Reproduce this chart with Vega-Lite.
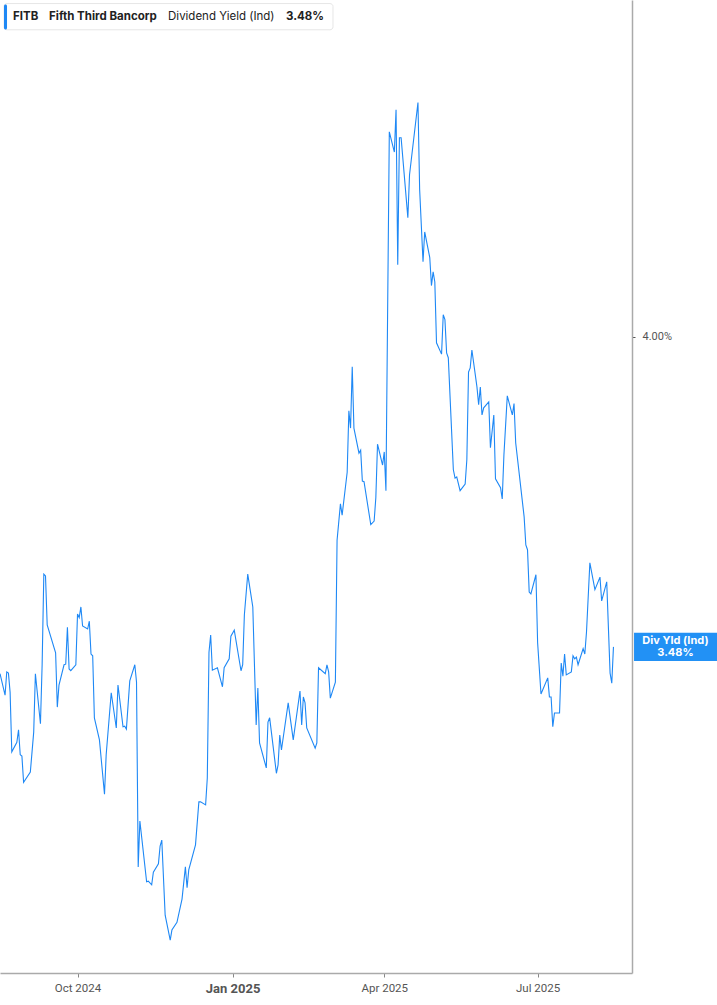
{
  "$schema": "https://vega.github.io/schema/vega-lite/v6.json",
  "width": 632,
  "height": 973,
  "padding": 0,
  "autosize": {"type": "pad"},
  "background": "white",
  "config": {"view": {"stroke": null}, "font": "Roboto"},
  "data": {"values": [
    {"date": "2024-08-16", "value": 3.435},
    {"date": "2024-08-19", "value": 3.399},
    {"date": "2024-08-20", "value": 3.438},
    {"date": "2024-08-21", "value": 3.436},
    {"date": "2024-08-22", "value": 3.404},
    {"date": "2024-08-23", "value": 3.304},
    {"date": "2024-08-26", "value": 3.320},
    {"date": "2024-08-27", "value": 3.341},
    {"date": "2024-08-28", "value": 3.299},
    {"date": "2024-08-29", "value": 3.297},
    {"date": "2024-08-30", "value": 3.253},
    {"date": "2024-09-03", "value": 3.270},
    {"date": "2024-09-05", "value": 3.337},
    {"date": "2024-09-06", "value": 3.435},
    {"date": "2024-09-09", "value": 3.351},
    {"date": "2024-09-10", "value": 3.450},
    {"date": "2024-09-11", "value": 3.602},
    {"date": "2024-09-12", "value": 3.599},
    {"date": "2024-09-13", "value": 3.517},
    {"date": "2024-09-18", "value": 3.470},
    {"date": "2024-09-19", "value": 3.379},
    {"date": "2024-09-20", "value": 3.416},
    {"date": "2024-09-23", "value": 3.450},
    {"date": "2024-09-24", "value": 3.451},
    {"date": "2024-09-25", "value": 3.513},
    {"date": "2024-09-26", "value": 3.443},
    {"date": "2024-09-27", "value": 3.440},
    {"date": "2024-09-30", "value": 3.450},
    {"date": "2024-10-01", "value": 3.535},
    {"date": "2024-10-02", "value": 3.529},
    {"date": "2024-10-03", "value": 3.547},
    {"date": "2024-10-04", "value": 3.515},
    {"date": "2024-10-07", "value": 3.510},
    {"date": "2024-10-08", "value": 3.523},
    {"date": "2024-10-09", "value": 3.468},
    {"date": "2024-10-10", "value": 3.465},
    {"date": "2024-10-11", "value": 3.361},
    {"date": "2024-10-14", "value": 3.324},
    {"date": "2024-10-17", "value": 3.233},
    {"date": "2024-10-18", "value": 3.299},
    {"date": "2024-10-21", "value": 3.403},
    {"date": "2024-10-24", "value": 3.344},
    {"date": "2024-10-25", "value": 3.416},
    {"date": "2024-10-28", "value": 3.346},
    {"date": "2024-10-29", "value": 3.347},
    {"date": "2024-10-30", "value": 3.342},
    {"date": "2024-11-01", "value": 3.423},
    {"date": "2024-11-04", "value": 3.450},
    {"date": "2024-11-05", "value": 3.421},
    {"date": "2024-11-06", "value": 3.111},
    {"date": "2024-11-07", "value": 3.188},
    {"date": "2024-11-11", "value": 3.086},
    {"date": "2024-11-12", "value": 3.087},
    {"date": "2024-11-14", "value": 3.081},
    {"date": "2024-11-15", "value": 3.102},
    {"date": "2024-11-18", "value": 3.116},
    {"date": "2024-11-19", "value": 3.146},
    {"date": "2024-11-20", "value": 3.156},
    {"date": "2024-11-22", "value": 3.030},
    {"date": "2024-11-25", "value": 2.988},
    {"date": "2024-11-26", "value": 3.005},
    {"date": "2024-11-29", "value": 3.018},
    {"date": "2024-12-02", "value": 3.057},
    {"date": "2024-12-04", "value": 3.111},
    {"date": "2024-12-05", "value": 3.076},
    {"date": "2024-12-06", "value": 3.106},
    {"date": "2024-12-10", "value": 3.148},
    {"date": "2024-12-12", "value": 3.220},
    {"date": "2024-12-13", "value": 3.220},
    {"date": "2024-12-16", "value": 3.215},
    {"date": "2024-12-17", "value": 3.260},
    {"date": "2024-12-18", "value": 3.471},
    {"date": "2024-12-19", "value": 3.500},
    {"date": "2024-12-20", "value": 3.441},
    {"date": "2024-12-23", "value": 3.445},
    {"date": "2024-12-26", "value": 3.413},
    {"date": "2024-12-27", "value": 3.445},
    {"date": "2024-12-30", "value": 3.460},
    {"date": "2024-12-31", "value": 3.498},
    {"date": "2025-01-02", "value": 3.508},
    {"date": "2025-01-06", "value": 3.440},
    {"date": "2025-01-07", "value": 3.450},
    {"date": "2025-01-08", "value": 3.534},
    {"date": "2025-01-10", "value": 3.602},
    {"date": "2025-01-13", "value": 3.547},
    {"date": "2025-01-15", "value": 3.349},
    {"date": "2025-01-16", "value": 3.411},
    {"date": "2025-01-17", "value": 3.319},
    {"date": "2025-01-21", "value": 3.277},
    {"date": "2025-01-22", "value": 3.354},
    {"date": "2025-01-23", "value": 3.361},
    {"date": "2025-01-27", "value": 3.268},
    {"date": "2025-01-28", "value": 3.282},
    {"date": "2025-01-29", "value": 3.332},
    {"date": "2025-01-30", "value": 3.307},
    {"date": "2025-02-03", "value": 3.386},
    {"date": "2025-02-06", "value": 3.324},
    {"date": "2025-02-10", "value": 3.406},
    {"date": "2025-02-11", "value": 3.349},
    {"date": "2025-02-12", "value": 3.396},
    {"date": "2025-02-13", "value": 3.386},
    {"date": "2025-02-14", "value": 3.344},
    {"date": "2025-02-19", "value": 3.310},
    {"date": "2025-02-20", "value": 3.319},
    {"date": "2025-02-21", "value": 3.445},
    {"date": "2025-02-25", "value": 3.435},
    {"date": "2025-02-26", "value": 3.450},
    {"date": "2025-02-27", "value": 3.438},
    {"date": "2025-02-28", "value": 3.394},
    {"date": "2025-03-03", "value": 3.421},
    {"date": "2025-03-04", "value": 3.659},
    {"date": "2025-03-06", "value": 3.720},
    {"date": "2025-03-07", "value": 3.701},
    {"date": "2025-03-10", "value": 3.773},
    {"date": "2025-03-11", "value": 3.876},
    {"date": "2025-03-12", "value": 3.847},
    {"date": "2025-03-13", "value": 3.950},
    {"date": "2025-03-14", "value": 3.847},
    {"date": "2025-03-17", "value": 3.805},
    {"date": "2025-03-18", "value": 3.810},
    {"date": "2025-03-19", "value": 3.758},
    {"date": "2025-03-20", "value": 3.757},
    {"date": "2025-03-24", "value": 3.685},
    {"date": "2025-03-26", "value": 3.691},
    {"date": "2025-03-27", "value": 3.730},
    {"date": "2025-03-28", "value": 3.820},
    {"date": "2025-03-31", "value": 3.785},
    {"date": "2025-04-01", "value": 3.807},
    {"date": "2025-04-02", "value": 3.742},
    {"date": "2025-04-04", "value": 4.344},
    {"date": "2025-04-07", "value": 4.310},
    {"date": "2025-04-08", "value": 4.381},
    {"date": "2025-04-09", "value": 4.121},
    {"date": "2025-04-10", "value": 4.334},
    {"date": "2025-04-11", "value": 4.334},
    {"date": "2025-04-15", "value": 4.200},
    {"date": "2025-04-16", "value": 4.272},
    {"date": "2025-04-21", "value": 4.393},
    {"date": "2025-04-22", "value": 4.247},
    {"date": "2025-04-24", "value": 4.126},
    {"date": "2025-04-25", "value": 4.176},
    {"date": "2025-04-28", "value": 4.133},
    {"date": "2025-04-29", "value": 4.086},
    {"date": "2025-04-30", "value": 4.109},
    {"date": "2025-05-01", "value": 4.092},
    {"date": "2025-05-02", "value": 3.990},
    {"date": "2025-05-05", "value": 3.971},
    {"date": "2025-05-06", "value": 4.037},
    {"date": "2025-05-07", "value": 4.029},
    {"date": "2025-05-08", "value": 3.973},
    {"date": "2025-05-09", "value": 3.965},
    {"date": "2025-05-12", "value": 3.777},
    {"date": "2025-05-13", "value": 3.763},
    {"date": "2025-05-14", "value": 3.765},
    {"date": "2025-05-16", "value": 3.742},
    {"date": "2025-05-19", "value": 3.753},
    {"date": "2025-05-20", "value": 3.794},
    {"date": "2025-05-21", "value": 3.941},
    {"date": "2025-05-22", "value": 3.948},
    {"date": "2025-05-23", "value": 3.978},
    {"date": "2025-05-26", "value": 3.916},
    {"date": "2025-05-27", "value": 3.886},
    {"date": "2025-05-28", "value": 3.916},
    {"date": "2025-05-29", "value": 3.869},
    {"date": "2025-05-30", "value": 3.881},
    {"date": "2025-06-02", "value": 3.891},
    {"date": "2025-06-03", "value": 3.814},
    {"date": "2025-06-05", "value": 3.869},
    {"date": "2025-06-06", "value": 3.762},
    {"date": "2025-06-09", "value": 3.747},
    {"date": "2025-06-10", "value": 3.728},
    {"date": "2025-06-11", "value": 3.802},
    {"date": "2025-06-13", "value": 3.901},
    {"date": "2025-06-16", "value": 3.869},
    {"date": "2025-06-17", "value": 3.888},
    {"date": "2025-06-18", "value": 3.822},
    {"date": "2025-06-23", "value": 3.698},
    {"date": "2025-06-24", "value": 3.651},
    {"date": "2025-06-25", "value": 3.643},
    {"date": "2025-06-26", "value": 3.572},
    {"date": "2025-06-27", "value": 3.569},
    {"date": "2025-06-30", "value": 3.601},
    {"date": "2025-07-01", "value": 3.487},
    {"date": "2025-07-03", "value": 3.401},
    {"date": "2025-07-07", "value": 3.428},
    {"date": "2025-07-08", "value": 3.396},
    {"date": "2025-07-09", "value": 3.396},
    {"date": "2025-07-10", "value": 3.346},
    {"date": "2025-07-11", "value": 3.369},
    {"date": "2025-07-14", "value": 3.369},
    {"date": "2025-07-15", "value": 3.453},
    {"date": "2025-07-16", "value": 3.431},
    {"date": "2025-07-17", "value": 3.468},
    {"date": "2025-07-18", "value": 3.433},
    {"date": "2025-07-21", "value": 3.438},
    {"date": "2025-07-22", "value": 3.465},
    {"date": "2025-07-23", "value": 3.460},
    {"date": "2025-07-24", "value": 3.463},
    {"date": "2025-07-25", "value": 3.450},
    {"date": "2025-07-28", "value": 3.477},
    {"date": "2025-07-29", "value": 3.468},
    {"date": "2025-07-30", "value": 3.505},
    {"date": "2025-08-01", "value": 3.621},
    {"date": "2025-08-04", "value": 3.576},
    {"date": "2025-08-07", "value": 3.597},
    {"date": "2025-08-08", "value": 3.557},
    {"date": "2025-08-11", "value": 3.589},
    {"date": "2025-08-13", "value": 3.436},
    {"date": "2025-08-14", "value": 3.419},
    {"date": "2025-08-15", "value": 3.48}
  ]},
  "layer": [
    {
      "mark": {"type": "line", "color": "#1e88f5", "strokeWidth": 1.1, "clip": true},
      "encoding": {
        "x": {
          "field": "date", "type": "temporal",
          "scale": {"type": "utc", "domain": [{"year": 2024, "month": 8, "date": 16, "utc": true}, {"year": 2025, "month": 8, "date": 26, "utc": true}]},
          "axis": {
            "title": null, "grid": false,
            "values": [{"year": 2024, "month": 10, "date": 1, "utc": true}, {"year": 2025, "month": 1, "date": 1, "utc": true}, {"year": 2025, "month": 4, "date": 1, "utc": true}, {"year": 2025, "month": 7, "date": 1, "utc": true}],
            "labelExpr": "utcFormat(datum.value, '%b %Y')",
            "domainColor": "#aaaaaa", "domainWidth": 1.5, "tickColor": "#888888", "tickSize": 4,
            "labelColor": "#555555", "labelFont": "Roboto", "labelPadding": 5,
            "labelFontSize": {"condition": {"test": "utcmonth(datum.value) == 0", "value": 13}, "value": 11.5},
            "labelFontWeight": {"condition": {"test": "utcmonth(datum.value) == 0", "value": "bold"}, "value": "normal"}
          }
        },
        "y": {
          "field": "value", "type": "quantitative",
          "scale": {"domain": [2.933, 4.565], "nice": false, "zero": false},
          "axis": {
            "orient": "right", "title": null, "grid": false, "values": [4],
            "labelExpr": "format(datum.value, '.2f') + '%'",
            "domainColor": "#aaaaaa", "domainWidth": 1.5, "tickColor": "#555555", "tickSize": 3,
            "labelColor": "#555555", "labelFont": "Roboto", "labelFontSize": 11, "labelPadding": 7
          }
        }
      }
    },
    {
      "data": {"values": [{}]},
      "mark": {"type": "rect", "fill": "white", "stroke": "#e6e6e6", "strokeWidth": 1, "cornerRadius": 3},
      "encoding": {
        "x": {"datum": {"year": 2024, "month": 8, "date": 18, "hours": 9, "utc": true}, "type": "temporal"},
        "x2": {"datum": {"year": 2025, "month": 3, "date": 1, "hours": 14, "utc": true}},
        "y": {"datum": 4.559, "type": "quantitative"},
        "y2": {"datum": 4.515}
      }
    },
    {
      "data": {"values": [{}]},
      "mark": {"type": "rect", "fill": "#1e88f5", "cornerRadius": 1.5},
      "encoding": {
        "x": {"datum": {"year": 2024, "month": 8, "date": 18, "hours": 9, "utc": true}, "type": "temporal"},
        "x2": {"datum": {"year": 2024, "month": 8, "date": 20, "hours": 4, "utc": true}},
        "y": {"datum": 4.5574, "type": "quantitative"},
        "y2": {"datum": 4.5155}
      }
    },
    {
      "data": {"values": [{}]},
      "mark": {"type": "text", "text": "FITB", "align": "left", "baseline": "middle", "font": "Inter", "fontSize": 11.5, "fontWeight": "bold", "color": "#222222"},
      "encoding": {
        "x": {"datum": {"year": 2024, "month": 8, "date": 23, "hours": 17, "utc": true}, "type": "temporal"},
        "y": {"datum": 4.537, "type": "quantitative"}
      }
    },
    {
      "data": {"values": [{}]},
      "mark": {"type": "text", "text": "Fifth Third Bancorp", "align": "left", "baseline": "middle", "font": "Inter", "fontSize": 11.5, "fontWeight": "bold", "color": "#222222"},
      "encoding": {
        "x": {"datum": {"year": 2024, "month": 9, "date": 14, "hours": 2, "utc": true}, "type": "temporal"},
        "y": {"datum": 4.537, "type": "quantitative"}
      }
    },
    {
      "data": {"values": [{}]},
      "mark": {"type": "text", "text": "Dividend Yield (Ind)", "align": "left", "baseline": "middle", "font": "Inter", "fontSize": 11.5, "fontWeight": "normal", "color": "#222222"},
      "encoding": {
        "x": {"datum": {"year": 2024, "month": 11, "date": 23, "hours": 17, "utc": true}, "type": "temporal"},
        "y": {"datum": 4.537, "type": "quantitative"}
      }
    },
    {
      "data": {"values": [{}]},
      "mark": {"type": "text", "text": "3.48%", "align": "left", "baseline": "middle", "font": "Inter", "fontSize": 11.5, "fontWeight": "bold", "color": "#222222"},
      "encoding": {
        "x": {"datum": {"year": 2025, "month": 2, "date": 1, "hours": 17, "utc": true}, "type": "temporal"},
        "y": {"datum": 4.537, "type": "quantitative"}
      }
    },
    {
      "data": {"values": [{}]},
      "mark": {"type": "rect", "fill": "#2291f5"},
      "encoding": {
        "x": {"datum": {"year": 2025, "month": 8, "date": 27, "hours": 5, "utc": true}, "type": "temporal"},
        "x2": {"datum": {"year": 2025, "month": 10, "date": 15, "hours": 12, "utc": true}},
        "y": {"datum": 3.5035, "type": "quantitative"},
        "y2": {"datum": 3.4565}
      }
    },
    {
      "data": {"values": [{}]},
      "mark": {"type": "text", "text": "Div Yld (Ind)", "align": "center", "baseline": "middle", "dy": -6, "font": "Inter", "fontSize": 11, "fontWeight": "bold", "color": "white"},
      "encoding": {
        "x": {"datum": {"year": 2025, "month": 9, "date": 20, "hours": 19, "utc": true}, "type": "temporal"},
        "y": {"datum": 3.48, "type": "quantitative"}
      }
    },
    {
      "data": {"values": [{}]},
      "mark": {"type": "text", "text": "3.48%", "align": "center", "baseline": "middle", "dy": 6, "font": "Inter", "fontSize": 11, "fontWeight": "bold", "color": "white"},
      "encoding": {
        "x": {"datum": {"year": 2025, "month": 9, "date": 20, "hours": 19, "utc": true}, "type": "temporal"},
        "y": {"datum": 3.48, "type": "quantitative"}
      }
    }
  ]
}
